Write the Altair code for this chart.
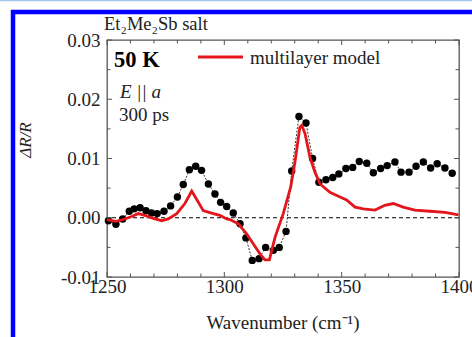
import altair as alt
import pandas as pd

# Measured data (black dots)
exp_wn = [1250.6, 1253.8, 1256.7, 1259.5, 1261.6, 1264.1, 1266.6, 1269.0, 1271.4, 1274.3,
          1277.1, 1280.0, 1282.5, 1285.1, 1287.8, 1290.3, 1293.2, 1296.0, 1298.4, 1301.0,
          1303.8, 1306.7, 1309.2, 1311.9, 1314.8, 1317.6, 1320.9, 1323.4, 1326.3, 1328.7,
          1331.8, 1334.8, 1337.6, 1340.3, 1343.3, 1346.2, 1348.8, 1351.8, 1354.7, 1357.5,
          1360.7, 1363.5, 1366.6, 1369.4, 1372.7, 1375.3, 1378.7, 1381.7, 1384.8, 1387.9,
          1390.7, 1394.0, 1397.1]
exp_dr = [-0.0005, -0.0011, -0.0002, 0.0011, 0.0015, 0.0017, 0.0012, 0.0008, 0.0007, 0.0011,
          0.0020, 0.0035, 0.0056, 0.0081, 0.0087, 0.0080, 0.0057, 0.0040, 0.0026, 0.0019,
          0.0008, -0.0010, -0.0034, -0.0072, -0.0069, -0.0050, -0.0055, -0.0050, -0.0023, 0.0079,
          0.0171, 0.0160, 0.0100, 0.0060, 0.0064, 0.0068, 0.0074, 0.0083, 0.0085, 0.0095,
          0.0092, 0.0076, 0.0083, 0.0088, 0.0094, 0.0077, 0.0077, 0.0087, 0.0094, 0.0084,
          0.0091, 0.0084, 0.0075]

# Multilayer model (red line)
mod_wn = [1249.9, 1253.8, 1256.9, 1260.5, 1263.3, 1266.2, 1269.7, 1273.3, 1276.1, 1279.7,
          1283.2, 1286.1, 1288.5, 1291.0, 1295.3, 1298.1, 1301.0, 1302.4, 1305.9, 1309.5,
          1312.3, 1315.2, 1317.3, 1319.2, 1321.6, 1325.1, 1328.3, 1330.1, 1332.2, 1333.0,
          1334.4, 1336.5, 1338.6, 1340.8, 1345.0, 1349.3, 1352.1, 1355.7, 1359.2, 1364.2,
          1368.4, 1372.0, 1376.2, 1381.2, 1387.6, 1394.0, 1399.8]
mod_dr = [-0.0003, -0.0006, -0.0003, 0.0002, 0.0007, 0.0004, -0.0001, -0.0005, -0.0002, 0.0007,
          0.0024, 0.0045, 0.0029, 0.0012, 0.0007, 0.0004, -0.0002, -0.0003, -0.0010, -0.0027,
          -0.0044, -0.0061, -0.0071, -0.0071, -0.0033, 0.0007, 0.0052, 0.0094, 0.0153, 0.0156,
          0.0142, 0.0102, 0.0077, 0.0057, 0.0043, 0.0035, 0.0030, 0.0018, 0.0015, 0.0013,
          0.0021, 0.0024, 0.0018, 0.0013, 0.0011, 0.0009, 0.0005]

x_major = [1250, 1300, 1350, 1400]
x_minor = [1260, 1270, 1280, 1290, 1310, 1320, 1330, 1340, 1360, 1370, 1380, 1390]
y_major = [-0.01, 0.0, 0.01, 0.02, 0.03]
y_minor = [-0.005, 0.005, 0.015, 0.025]

W, H = 352, 237
SERIF = "Liberation Serif"
RED = "#e3161b"

exp_df = pd.DataFrame({"wn": exp_wn, "dr": exp_dr})
mod_df = pd.DataFrame({"wn": mod_wn, "dr": mod_dr})

xs = alt.Scale(domain=[1250, 1400], nice=False, zero=False)
ys = alt.Scale(domain=[-0.01, 0.03], nice=False, zero=False)

X = alt.X("wn:Q", scale=xs, axis=alt.Axis(values=x_major, format="d", title=None, grid=False,
                                         ticks=False, domain=False, labelFont=SERIF,
                                         labelFontSize=19, labelColor="#222", labelPadding=0,
                                         labelFlush=False, labelOverlap=False))
Y = alt.Y("dr:Q", scale=ys, axis=alt.Axis(values=y_major, title=None, grid=False,
                                         ticks=False, domain=False, labelFont=SERIF,
                                         labelFontSize=19, labelColor="#222", labelPadding=7,
                                         labelFlush=False, labelOverlap=False,
                                         labelExpr="datum.value < 0 ? '-' + format(abs(datum.value), '.2f') : format(datum.value, '.2f')"))

one = lambda: alt.Data(values=[{"a": 1}])

zero = alt.Chart(pd.DataFrame({"dr": [0.0]})).mark_rule(
    color="black", strokeDash=[4, 3], strokeWidth=1).encode(y=alt.Y("dr:Q", scale=ys))

connect = alt.Chart(exp_df).mark_line(color="#333", strokeWidth=1, strokeDash=[2, 1.5]).encode(x=X, y=Y)
dots = alt.Chart(exp_df).mark_circle(size=55, color="black", opacity=1).encode(x=X, y=Y)
model = alt.Chart(mod_df).mark_line(color=RED, strokeWidth=2.8).encode(x=X, y=Y)

tick_layers = []
for vals, L in [(x_major, 5), (x_minor, 3.5)]:
    d = pd.DataFrame({"wn": vals})
    tick_layers.append(alt.Chart(d).mark_rule(color="#555", strokeWidth=1).encode(
        x=alt.X("wn:Q", scale=xs), y=alt.value(H), y2=alt.value(H - L)))
    tick_layers.append(alt.Chart(d).mark_rule(color="#555", strokeWidth=1).encode(
        x=alt.X("wn:Q", scale=xs), y=alt.value(0), y2=alt.value(L)))
for vals, L in [(y_major, 5), (y_minor, 3.5)]:
    d = pd.DataFrame({"dr": vals})
    tick_layers.append(alt.Chart(d).mark_rule(color="#555", strokeWidth=1).encode(
        y=alt.Y("dr:Q", scale=ys), x=alt.value(0), x2=alt.value(L)))
    tick_layers.append(alt.Chart(d).mark_rule(color="#555", strokeWidth=1).encode(
        y=alt.Y("dr:Q", scale=ys), x=alt.value(W), x2=alt.value(W - L)))


def label(text, x, y, size, **kw):
    return alt.Chart(alt.Data(values=[{"t": text}])).mark_text(
        font=SERIF, fontSize=size, color=kw.pop("color", "#222"),
        align=kw.pop("align", "left"), baseline=kw.pop("baseline", "alphabetic"), **kw
    ).encode(x=alt.value(x), y=alt.value(y), text="t:N")


texts = [
    label("Et\u2082Me\u2082Sb salt", -3, -10, 18.5),
    label("50 K", 7, 27, 22.5, fontWeight="bold", color="black"),
    label("E || a", 13, 58, 19, fontStyle="italic"),
    label("300 ps", 12, 81, 19),
    label("multilayer model", 143, 24, 19),
    label("Wavenumber (cm\u207b\u00b9)", 176, 289, 19, align="center"),
    label("\u0394R/R", -81, 100, 17, fontStyle="italic", angle=270, align="center", baseline="middle"),
]

legend_line = alt.Chart(one()).mark_rule(color=RED, strokeWidth=3).encode(
    x=alt.value(91), x2=alt.value(136), y=alt.value(17))

blue_left = alt.Chart(one()).mark_rule(color="#0000ff", strokeWidth=4.5).encode(
    x=alt.value(-94), y=alt.value(-30), y2=alt.value(297))
blue_top = alt.Chart(one()).mark_rule(color="#0000ff", strokeWidth=4.5).encode(
    x=alt.value(-96), x2=alt.value(365), y=alt.value(-28))
light_top = alt.Chart(one()).mark_rule(color="#a7c7e7", strokeWidth=1.5).encode(
    x=alt.value(-107), x2=alt.value(365), y=alt.value(-39.5))

chart = alt.layer(
    zero, connect, dots, model, *tick_layers, *texts, legend_line, blue_left, blue_top, light_top
).properties(
    width=W, height=H,
    autosize=alt.AutoSizeParams(type="none"),
    padding={"left": 107, "top": 40, "right": 13, "bottom": 60},
    background="white",
).configure_view(stroke="#555", strokeWidth=1.3)

chart.save("out.html", embed_options={"renderer": "svg", "actions": False})
